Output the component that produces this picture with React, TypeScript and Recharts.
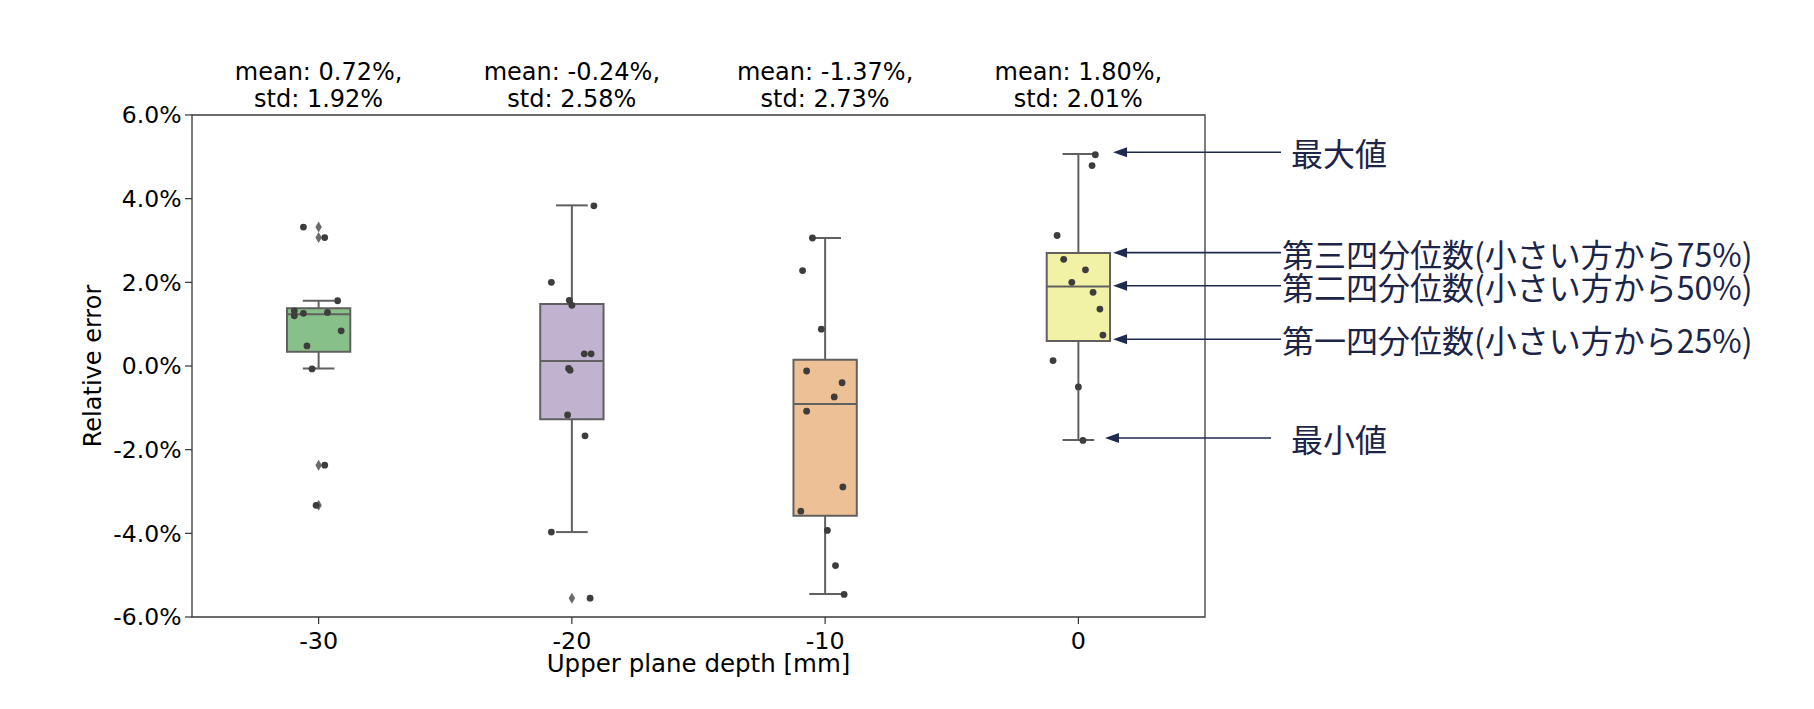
import React from 'react';
import {
  ComposedChart,
  Scatter,
  XAxis,
  YAxis,
  ReferenceArea,
  ReferenceLine,
} from 'recharts';

// categories on the x axis (box positions 0..3)
const categories = ['-30', '-20', '-10', '0'];
const meanLabels = ['0.72%', '-0.24%', '-1.37%', '1.80%'];
const stdLabels = ['1.92%', '2.58%', '2.73%', '2.01%'];
const yTicks = [-6, -4, -2, 0, 2, 4, 6];

// box statistics per category (%)
const whiskerHigh = [1.56, 3.84, 3.06, 5.07];
const q3 = [1.38, 1.48, 0.15, 2.7];
const median = [1.24, 0.12, -0.91, 1.9];
const q1 = [0.34, -1.27, -3.58, 0.6];
const whiskerLow = [-0.06, -3.97, -5.45, -1.77];
const fliers = [[3.32, 3.07, -2.37, -3.33], [-5.55], [], []];

// strip points: values and horizontal jitter (in category units)
const pointValues = [
  [3.32, 3.07, 1.56, 1.32, 1.26, 1.28, 1.2, 0.84, 0.48, -0.07, -2.37, -3.33],
  [3.83, 2.0, 1.57, 1.45, 0.29, 0.29, -0.06, -0.1, -1.17, -1.67, -3.97, -5.55],
  [3.06, 2.28, 0.88, -0.12, -0.4, -0.74, -1.08, -2.89, -3.47, -3.93, -4.77, -5.46],
  [5.05, 4.79, 3.12, 2.55, 2.3, 2.0, 1.76, 1.36, 0.74, 0.13, -0.5, -1.78],
];
const pointJitter = [
  [-0.06, 0.024, 0.075, -0.096, -0.06, 0.035, -0.096, 0.089, -0.046, -0.026, 0.024, -0.01],
  [0.087, -0.081, -0.01, 0.0, 0.049, 0.076, -0.013, -0.007, -0.017, 0.052, -0.081, 0.072],
  [-0.05, -0.089, -0.015, -0.073, 0.067, 0.036, -0.073, 0.07, -0.096, 0.009, 0.041, 0.075],
  [0.067, 0.054, -0.084, -0.058, 0.028, -0.026, 0.058, 0.085, 0.097, -0.1, 0.0, 0.018],
];

const boxColors = ['#88c089', '#bfb3cf', '#eec095', '#f2f2a6'];

// annotations for the last box
const noteLabels = ['最大値', '第三四分位数(小さい方から75%)', '第二四分位数(小さい方から50%)', '第一四分位数(小さい方から25%)', '最小値'];
const noteValues = [5.11, 2.71, 1.92, 0.64, -1.72];
const noteStart = [3.137, 3.137, 3.137, 3.137, 3.105];
const noteEnd = [3.8, 3.8, 3.8, 3.8, 3.761];
const noteGap = [10, 1, 1, 1, 20];

const FONT = '"DejaVu Sans", sans-serif';
const EDGE = '#606060';
const HALF_BOX = 0.125;
const HALF_CAP = 0.0625;

const points = pointValues.flatMap((vals, i) =>
  vals.map((v, j) => ({ x: i + pointJitter[i][j], y: v }))
);
const flierPoints = fliers.flatMap((vals, i) => vals.map((v) => ({ x: i, y: v })));

// mean/std text drawn above the plot top for category i
const statsShape = (i: number) => (p: any) => {
  const { x1, y1 } = p;
  return (
    <text textAnchor="middle" fontSize={24} fontFamily={FONT} fill="#000">
      <tspan x={x1} y={y1 - 35.2}>{`mean: ${meanLabels[i]},`}</tspan>
      <tspan x={x1} y={y1 - 8}>{`std: ${stdLabels[i]}`}</tspan>
    </text>
  );
};

const arrowShape = (label: string, gap: number) => (p: any) => {
  const { x1, y1, x2 } = p;
  const left = Math.min(x1, x2);
  const right = Math.max(x1, x2);
  return (
    <g>
      <line x1={left + 10} y1={y1} x2={right} y2={y1} stroke="#1f2a50" strokeWidth={1.6} />
      <polygon points={`${left},${y1} ${left + 14},${y1 - 5} ${left + 14},${y1 + 5}`} fill="#1f2a50" />
      <text
        x={right + gap}
        y={y1}
        dominantBaseline="central"
        fontSize={32}
        fontFamily='"Noto Sans CJK JP", sans-serif'
        fill="#1c2448"
      >
        {label}
      </text>
    </g>
  );
};

export default function App() {
  return (
    <div style={{ fontFamily: FONT }}>
      <ComposedChart
        width={1798}
        height={693}
        margin={{ top: 107, right: 601, bottom: 24, left: 84 }}
      >
        <XAxis
          type="number"
          dataKey="x"
          domain={[-0.5, 3.5]}
          ticks={[0, 1, 2, 3]}
          tickFormatter={(v: number) => categories[v]}
          height={60}
          axisLine={false}
          tickSize={7}
          tickMargin={8}
          tickLine={{ stroke: '#333', strokeWidth: 1.2 }}
          tick={{ fill: '#000', fontSize: 23.8, fontFamily: FONT }}
          label={{
            value: 'Upper plane depth [mm]',
            position: 'insideBottom',
            offset: 5,
            fill: '#000',
            fontSize: 24.5,
            fontFamily: FONT,
          }}
        />
        <YAxis
          type="number"
          dataKey="y"
          domain={[-6, 6]}
          ticks={yTicks}
          tickFormatter={(v: number) => `${v.toFixed(1)}%`}
          width={100}
          axisLine={false}
          tickSize={7}
          tickMargin={3.5}
          tickLine={{ stroke: '#333', strokeWidth: 1.2 }}
          tick={{ fill: '#000', fontSize: 23.5, fontFamily: FONT }}
          label={{
            content: (p: any) => {
              const vb = p.viewBox;
              const cx = vb.x + 0.6;
              const cy = vb.y + vb.height / 2;
              return (
                <text
                  x={cx}
                  y={cy}
                  transform={`rotate(-90 ${cx} ${cy})`}
                  textAnchor="middle"
                  dominantBaseline="central"
                  fontSize={24}
                  fontFamily={FONT}
                  fill="#000"
                >
                  Relative error
                </text>
              );
            },
          }}
        />

        {/* plot frame */}
        <ReferenceArea x1={-0.5} x2={3.5} y1={-6} y2={6} fill="none" stroke="#3a3a3a" strokeWidth={1.3} />

        {categories.map((c, i) => (
          <ReferenceLine
            key={`st${c}`}
            segment={[{ x: i, y: 6 }, { x: i, y: 6 }]}
            ifOverflow="visible"
            shape={statsShape(i)}
          />
        ))}

        {categories.map((c, i) => (
          <ReferenceLine
            key={`wl${c}`}
            segment={[{ x: i, y: q1[i] }, { x: i, y: whiskerLow[i] }]}
            stroke={EDGE}
            strokeWidth={2}
          />
        ))}
        {categories.map((c, i) => (
          <ReferenceLine
            key={`wh${c}`}
            segment={[{ x: i, y: q3[i] }, { x: i, y: whiskerHigh[i] }]}
            stroke={EDGE}
            strokeWidth={2}
          />
        ))}
        {categories.map((c, i) => (
          <ReferenceLine
            key={`cl${c}`}
            segment={[{ x: i - HALF_CAP, y: whiskerLow[i] }, { x: i + HALF_CAP, y: whiskerLow[i] }]}
            stroke={EDGE}
            strokeWidth={2}
          />
        ))}
        {categories.map((c, i) => (
          <ReferenceLine
            key={`ch${c}`}
            segment={[{ x: i - HALF_CAP, y: whiskerHigh[i] }, { x: i + HALF_CAP, y: whiskerHigh[i] }]}
            stroke={EDGE}
            strokeWidth={2}
          />
        ))}
        {categories.map((c, i) => (
          <ReferenceArea
            key={`box${c}`}
            x1={i - HALF_BOX}
            x2={i + HALF_BOX}
            y1={q1[i]}
            y2={q3[i]}
            fill={boxColors[i]}
            fillOpacity={1}
            stroke={EDGE}
            strokeWidth={2}
          />
        ))}
        {categories.map((c, i) => (
          <ReferenceLine
            key={`med${c}`}
            segment={[{ x: i - HALF_BOX, y: median[i] }, { x: i + HALF_BOX, y: median[i] }]}
            stroke={EDGE}
            strokeWidth={2}
          />
        ))}

        <Scatter
          data={flierPoints}
          isAnimationActive={false}
          shape={(p: any) => (
            <polygon
              points={`${p.cx},${p.cy - 5.5} ${p.cx + 3.2},${p.cy} ${p.cx},${p.cy + 5.5} ${p.cx - 3.2},${p.cy}`}
              fill="#6b6b6b"
            />
          )}
        />
        <Scatter
          data={points}
          isAnimationActive={false}
          shape={(p: any) => <circle cx={p.cx} cy={p.cy} r={3.4} fill="#3d3d3d" />}
        />

        {noteLabels.map((label, k) => (
          <ReferenceLine
            key={`note${k}`}
            segment={[{ x: noteStart[k], y: noteValues[k] }, { x: noteEnd[k], y: noteValues[k] }]}
            ifOverflow="visible"
            shape={arrowShape(label, noteGap[k])}
          />
        ))}
      </ComposedChart>
    </div>
  );
}
